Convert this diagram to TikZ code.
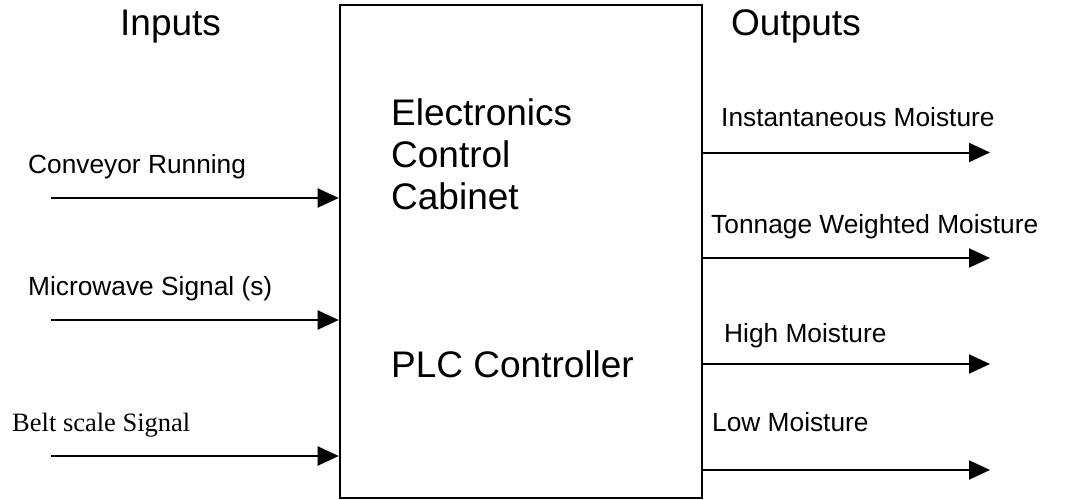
\documentclass[tikz,border=0pt]{standalone}
\usepackage{fontspec}
\setmainfont{Liberation Sans}
\newfontfamily\timesfont{Liberation Serif}
\usetikzlibrary{arrows.meta}
\begin{document}
\begin{tikzpicture}[x=1pt,y=-1pt,
  big/.style={font=\fontsize{37}{42}\selectfont, inner sep=0pt, anchor=base west},
  small/.style={font=\fontsize{26.3}{30}\selectfont, inner sep=0pt, anchor=base west},
  cabinet/.style={draw, line width=2.6pt, minimum width=362pt, minimum height=493pt, inner sep=0pt},
  sig/.style={line width=2pt, -{Triangle[length=21pt,width=19pt]}}]
\useasboundingbox (0,0) rectangle (1065,500);
\node[cabinet] (box) at (521,251.5) {};
% headers
\node[big] (inputs) at (120,36) {Inputs};
\node[big] (outputs) at (731,36) {Outputs};
% box texts
\node[big] (ecc1) at (391,126) {Electronics};
\node[big] (ecc2) at (391,167) {Control};
\node[big] (ecc3) at (391,209) {Cabinet};
\node[big] (plc) at (391,377) {PLC Controller};
% input labels
\node[small] (l1) at (28,173) {Conveyor Running};
\node[small] (l2) at (28,295) {Microwave Signal (s)};
\node[small,font=\timesfont\fontsize{26.5}{30}\selectfont] (l3) at (12,431) {Belt scale Signal};
% output labels
\node[small] (o1) at (721,127) {Instantaneous Moisture};
\node[small] (o2) at (711,233) {Tonnage Weighted Moisture};
\node[small] (o3) at (724,342) {High Moisture};
\node[small] (o4) at (712,431) {Low Moisture};
% input coordinates
\coordinate (i1) at (51,198);
\coordinate (i2) at (51,320);
\coordinate (i3) at (51,456);
\draw[sig] (i1) -- (box.west |- i1);
\draw[sig] (i2) -- (box.west |- i2);
\draw[sig] (i3) -- (box.west |- i3);
% output coordinates
\coordinate (e1) at (990,152.5);
\coordinate (e2) at (990,258);
\coordinate (e3) at (990,364);
\coordinate (e4) at (990,470);
\draw[sig] (box.east |- e1) -- (e1);
\draw[sig] (box.east |- e2) -- (e2);
\draw[sig] (box.east |- e3) -- (e3);
\draw[sig] (box.east |- e4) -- (e4);
\end{tikzpicture}
\end{document}
